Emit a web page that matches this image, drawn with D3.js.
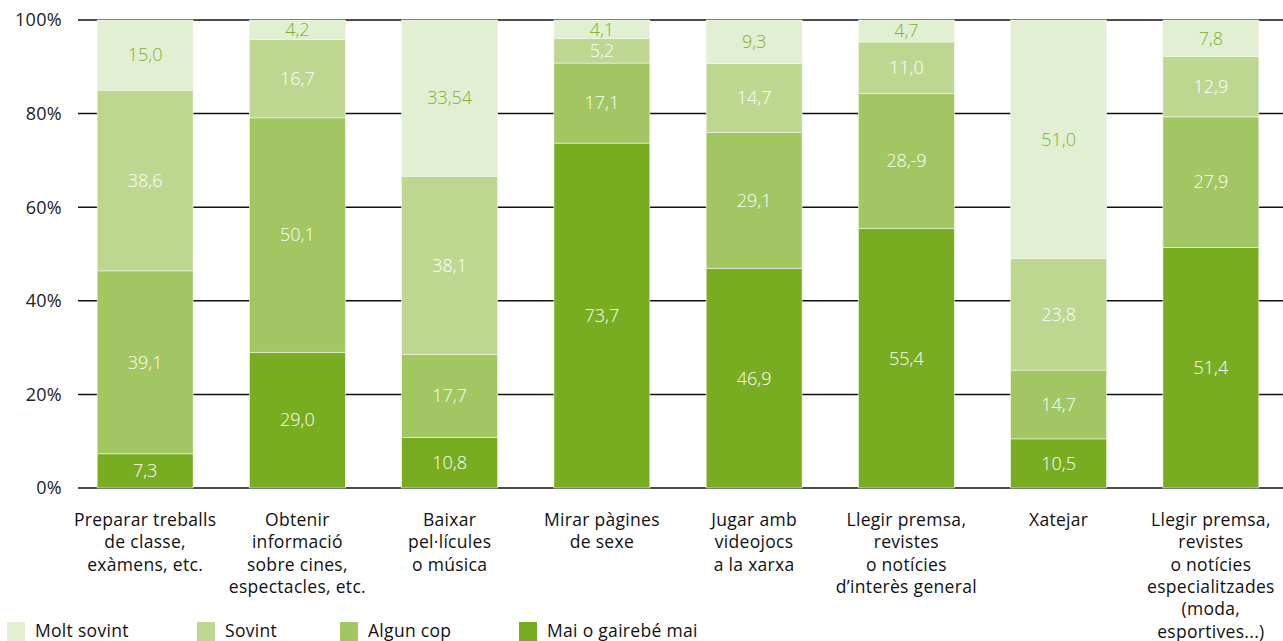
<!DOCTYPE html>
<html>
<head>
<meta charset="utf-8">
<script src="https://cdn.jsdelivr.net/npm/d3@7"></script>
<style>
  body { margin: 0; background: #fff; }
  svg { display: block; font-family: "Open Sans", "Liberation Sans", Arial, sans-serif; }
</style>
</head>
<body>
<div id="chart"></div>
<script>
var categories = [
    "Preparar treballs|de classe,|exàmens, etc.",
    "Obtenir|informació|sobre cines,|espectacles, etc.",
    "Baixar|pel·lícules|o música",
    "Mirar pàgines|de sexe",
    "Jugar amb|videojocs|a la xarxa",
    "Llegir premsa,|revistes|o notícies|d’interès general",
    "Xatejar",
    "Llegir premsa,|revistes|o notícies|especialitzades|(moda,|esportives...)"
];

var series = ["Mai o gairebé mai", "Algun cop", "Sovint", "Molt sovint"];

var maiValues = [7.3, 29.0, 10.8, 73.7, 46.9, 55.4, 10.5, 51.4];
var algunValues = [39.1, 50.1, 17.7, 17.1, 29.1, 28.9, 14.7, 27.9];
var sovintValues = [38.6, 16.7, 38.1, 5.2, 14.7, 11.0, 23.8, 12.9];
var moltValues = [15.0, 4.2, 33.54, 4.1, 9.3, 4.7, 51.0, 7.8];

// label text exactly as printed in the source
var labelOverrides = { "Algun cop|5": "28,-9" };

var yTicks = [0, 20, 40, 60, 80, 100];

var colors = {
    "Mai o gairebé mai": "#78ad21",
    "Algun cop": "#a1c662",
    "Sovint": "#bdd791",
    "Molt sovint": "#e3efd3"
};

var width = 1283,
    height = 641;

var data = categories.map(function (c, i) {
    return {
        cat: c,
        "Mai o gairebé mai": maiValues[i],
        "Algun cop": algunValues[i],
        "Sovint": sovintValues[i],
        "Molt sovint": moltValues[i]
    };
});

var stack = d3.stack().keys(series)(data);

var x = d3.scaleBand()
    .domain(categories)
    .range([69, 1287])
    .paddingInner(0.37)
    .paddingOuter(0.185);

var y = d3.scaleLinear()
    .domain([0, 100])
    .range([488, 20]);

var svg = d3.select("#chart")
    .append("svg")
    .attr("width", width)
    .attr("height", height);

// gridlines
svg.append("g")
    .selectAll("line")
    .data(yTicks)
    .enter().append("line")
    .attr("x1", 78)
    .attr("x2", 1283)
    .attr("y1", function (d) { return y(d); })
    .attr("y2", function (d) { return y(d); })
    .attr("stroke", "#111")
    .attr("stroke-width", 1.5);

svg.append("g")
    .selectAll("text")
    .data(yTicks)
    .enter().append("text")
    .attr("x", 62)
    .attr("y", function (d) { return y(d); })
    .attr("dy", "0.35em")
    .attr("text-anchor", "end")
    .attr("fill", "#222")
    .style("font-size", "18px")
    .style("letter-spacing", "0.3px")
    .text(function (d) { return d + "%"; });

function fmt(v) {
    var s = Math.round(v * 10) === v * 10 ? v.toFixed(1) : String(v);
    return s.replace(".", ",");
}

var layers = svg.append("g")
    .selectAll("g")
    .data(stack)
    .enter().append("g")
    .attr("fill", function (d) { return colors[d.key]; });

layers.selectAll("rect")
    .data(function (d) { return d; })
    .enter().append("rect")
    .attr("x", function (d) { return x(d.data.cat); })
    .attr("width", x.bandwidth())
    .attr("y", function (d) { return y(Math.min(d[1], 100)); })
    .attr("height", function (d) { return y(d[0]) - y(Math.min(d[1], 100)); })
    .attr("stroke", "#f2f7ea")
    .attr("stroke-width", 0.6);

layers.selectAll("text")
    .data(function (d) {
        return d.map(function (p, i) { return { key: d.key, p: p, i: i }; });
    })
    .enter().append("text")
    .attr("x", function (d) { return x(d.p.data.cat) + x.bandwidth() / 2; })
    .attr("y", function (d) { return (y(d.p[0]) + y(Math.min(d.p[1], 100))) / 2; })
    .attr("dy", "0.35em")
    .attr("text-anchor", "middle")
    .attr("fill", function (d) { return d.key === "Molt sovint" ? "#7cb131" : "#fff"; })
    .style("font-size", "18px")
    .style("font-weight", 300)
    .text(function (d) {
        var o = labelOverrides[d.key + "|" + d.i];
        return o || fmt(d.p.data[d.key]);
    });

// category labels
var cats = svg.append("g")
    .selectAll("text")
    .data(categories)
    .enter().append("text")
    .attr("x", function (d) { return x(d) + x.bandwidth() / 2; })
    .attr("y", 520)
    .attr("text-anchor", "middle")
    .attr("fill", "#111")
    .style("font-size", "17.5px")
    .style("letter-spacing", "0.3px");

cats.selectAll("tspan")
    .data(function (d) { return d.split("|"); })
    .enter().append("tspan")
    .attr("x", function () { return d3.select(this.parentNode).attr("x"); })
    .attr("dy", function (d, i) { return i === 0 ? "0.35em" : "22.3px"; })
    .text(function (d) { return d; });

// legend
var legendX = [7, 197, 340, 519];
var legendOrder = ["Molt sovint", "Sovint", "Algun cop", "Mai o gairebé mai"];

var legend = svg.append("g")
    .selectAll("g")
    .data(legendOrder)
    .enter().append("g")
    .attr("transform", function (d, i) { return "translate(" + legendX[i] + ",622)"; });

legend.append("rect")
    .attr("width", 18)
    .attr("height", 19)
    .attr("fill", function (d) { return colors[d]; });

legend.append("text")
    .attr("x", 28)
    .attr("y", 9)
    .attr("dy", "0.35em")
    .attr("fill", "#111")
    .style("font-size", "17.5px")
    .style("letter-spacing", "0.3px")
    .text(function (d) { return d; });
</script>
</body>
</html>
